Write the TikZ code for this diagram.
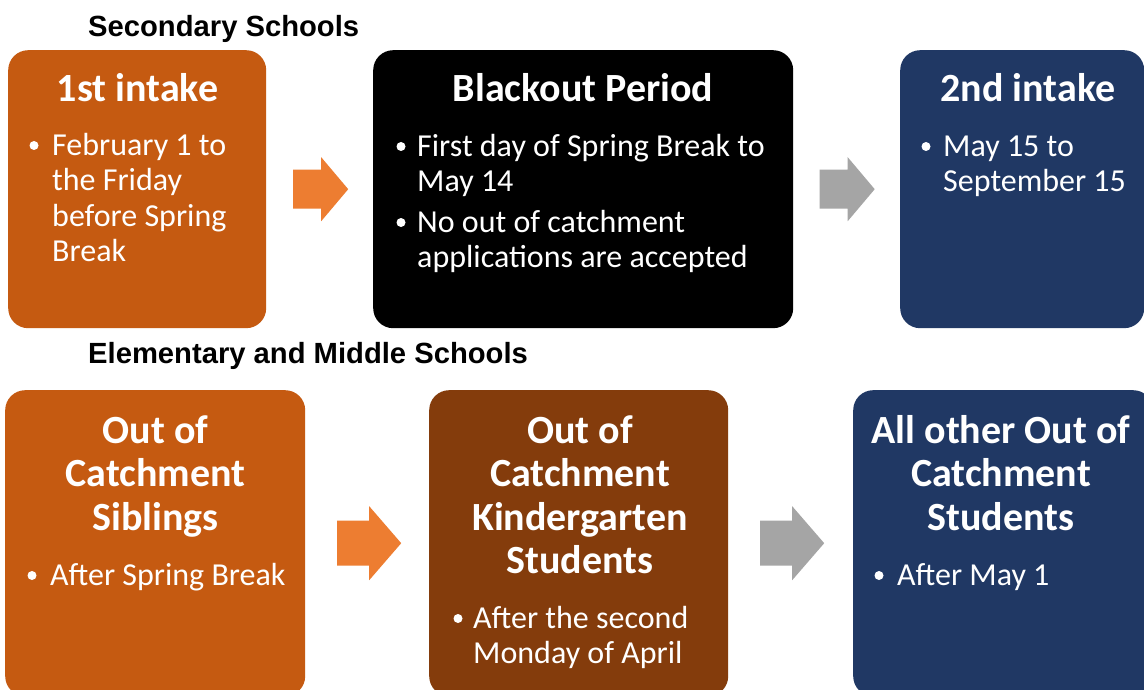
\documentclass[tikz,border=0pt]{standalone}
\usepackage{fontspec}
\setmainfont{Carlito}
\newfontfamily\ttlfont{Liberation Sans}
\usetikzlibrary{calc}
\definecolor{boxorange}{HTML}{C55A11}
\definecolor{arroworange}{HTML}{ED7D31}
\definecolor{boxbrown}{HTML}{843C0C}
\definecolor{boxnavy}{HTML}{203864}
\definecolor{arrowgray}{HTML}{A5A5A5}
\newcommand\myhstrut{\rule{0pt}{34pt}}
\newcommand\mybstrut{\rule{0pt}{28pt}}
\newcommand\blockarrow[6]{\fill[#6] (#1) ++({-#2/2},{-#4/2}) -- ++({#2-#5},0) -- ++(0,{-(#3-#4)/2}) -- ++(#5,{#3/2}) -- ++({-#5},{#3/2}) -- ++(0,{-(#3-#4)/2}) -- ++({-(#2-#5)},0) -- cycle;}
\tikzset{
  card/.style={rounded corners=20pt, inner sep=0pt, anchor=north west, draw=none},
  head/.style={text=white, font=\fontsize{40}{43.5}\selectfont\bfseries, align=center, inner sep=0pt, anchor=north},
  body/.style={text=white, font=\fontsize{32}{35.5}\selectfont, align=left, inner sep=0pt, anchor=north west},
  bul/.style={circle, fill=white, inner sep=0pt, minimum size=9pt},
  sect/.style={font=\ttlfont\bfseries\fontsize{29.2}{32}\selectfont, anchor=base west, inner sep=0pt},
}
\begin{document}
\begin{tikzpicture}[x=1pt,y=-1pt]
\path[use as bounding box] (0,0) rectangle (1144,690);
\clip (0,0) rectangle (1144,690);
\fill[white] (0,0) rectangle (1144,690);
% section titles
\node[sect] (s1) at (88,37) {Secondary Schools};
\node[sect] (s2) at (88,363) {Elementary and Middle Schools};
% top row cards
\node[card, fill=boxorange, minimum width=258pt, minimum height=278pt] (c1) at (8,50) {};
\node[card, fill=black, minimum width=420pt, minimum height=278pt] (c2) at (373,50) {};
\node[card, fill=boxnavy, minimum width=244pt, minimum height=278pt] (c3) at (900,50) {};
% top row text
\node[head] (h1) at (137.5,67) {\myhstrut 1st intake};
\node[bul] (u1) at (34,145.5) {};
\node[body] (t1) at (52,127) {\mybstrut February 1 to\\the Friday\\before Spring\\Break};
\node[head] (h2) at (583,67) {\myhstrut Blackout Period};
\node[bul] (u2) at (401,146.5) {};
\node[body] (t2) at (417,128) {\mybstrut First day of Spring Break to\\May 14};
\node[bul] (u3) at (401,222.5) {};
\node[body] (t3) at (417,204) {\mybstrut No out of catchment\\applications are accepted};
\node[head] (h3) at (1028,67) {\myhstrut 2nd intake};
\node[bul] (u4) at (926,146.5) {};
\node[body] (t4) at (943,128) {\mybstrut May 15 to\\September 15};
% bottom row cards
\node[card, fill=boxorange, minimum width=300pt, minimum height=306pt] (c4) at (5,390) {};
\node[card, fill=boxbrown, minimum width=299pt, minimum height=306pt] (c5) at (429,390) {};
\node[card, fill=boxnavy, minimum width=300pt, minimum height=306pt] (c6) at (853,390) {};
% bottom row text
\node[head] (h4) at (155.5,409) {\myhstrut Out of\\Catchment\\Siblings};
\node[bul] (u5) at (32,575.5) {};
\node[body] (t5) at (50,557) {\mybstrut After Spring Break};
\node[head] (h5) at (580,409) {\myhstrut Out of\\Catchment\\Kindergarten\\Students};
\node[bul] (u6) at (458,618.5) {};
\node[body] (t6) at (473,600) {\mybstrut After the second\\Monday of April};
\node[head] (h6) at (1001,409) {\myhstrut All other Out of\\Catchment\\Students};
\node[bul] (u7) at (879,575.5) {};
\node[body] (t7) at (897,557) {\mybstrut After May 1};
% block arrows
\coordinate (a1) at ($(c1.east)!0.5!(c2.west)+(1,0)$);
\coordinate (a2) at ($(c2.east)!0.5!(c3.west)+(0.5,0)$);
\coordinate (a3) at ($(c4.east)!0.5!(c5.west)+(2,0)$);
\coordinate (a4) at ($(c5.east)!0.5!(c6.west)+(1.5,0)$);
\blockarrow{a1}{55}{64}{39}{27}{arroworange}
\blockarrow{a2}{55}{64}{39}{27}{arrowgray}
\blockarrow{a3}{64}{74}{45}{32}{arroworange}
\blockarrow{a4}{64}{74}{45}{32}{arrowgray}
\end{tikzpicture}
\end{document}
